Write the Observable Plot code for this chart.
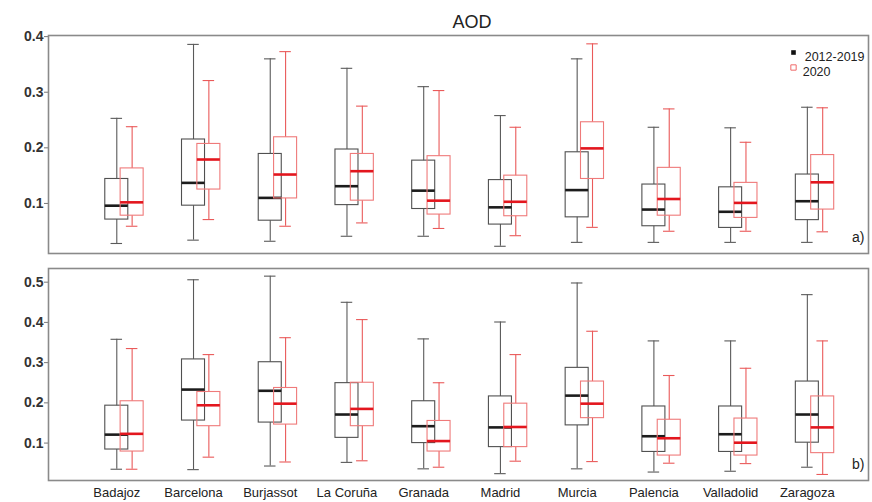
<!DOCTYPE html>
<html><head><meta charset="utf-8">
<script src="https://cdn.jsdelivr.net/npm/d3@7"></script>
<script src="https://cdn.jsdelivr.net/npm/@observablehq/plot@0.6"></script>
<style>
body{margin:0;background:#fff;}
#wrap{position:relative;width:872px;height:502px;font-family:"Liberation Sans",Arial,sans-serif;overflow:hidden;background:#fff;}
#title{position:absolute;top:13px;left:422px;width:100px;text-align:center;font-size:18px;line-height:18px;color:#222;z-index:2;}
#pa{position:absolute;top:16px;left:0;z-index:1;}
#pb{position:absolute;top:260px;left:0;z-index:1;}
</style>
</head><body>
<div id="wrap"><div id="title">AOD</div><div id="pa"></div><div id="pb"></div></div>
<script>
const cities = ["Badajoz","Barcelona","Burjassot","La Coruña","Granada","Madrid","Murcia","Palencia","Valladolid","Zaragoza"];
const periods = ["2012-2019","2020"];

// Panel a)
const aBaseMin = [0.028,0.034,0.032,0.041,0.041,0.023,0.030,0.030,0.030,0.030];
const aBaseQ1  = [0.071,0.096,0.069,0.097,0.090,0.062,0.075,0.059,0.056,0.070];
const aBaseMed = [0.096,0.137,0.110,0.131,0.123,0.093,0.124,0.089,0.085,0.104];
const aBaseQ3  = [0.144,0.215,0.189,0.197,0.177,0.142,0.192,0.134,0.129,0.152];
const aBaseMax = [0.253,0.386,0.360,0.343,0.310,0.258,0.360,0.237,0.236,0.273];
const a20Min = [0.059,0.071,0.059,0.065,0.055,0.042,0.057,0.050,0.050,0.049];
const a20Q1  = [0.078,0.125,0.109,0.105,0.080,0.077,0.144,0.078,0.074,0.089];
const a20Med = [0.102,0.179,0.152,0.158,0.105,0.103,0.199,0.108,0.101,0.138];
const a20Q3  = [0.163,0.207,0.219,0.189,0.185,0.150,0.246,0.164,0.137,0.187];
const a20Max = [0.238,0.321,0.373,0.275,0.303,0.237,0.387,0.270,0.210,0.272];

// Panel b)
const bBaseMin = [0.035,0.034,0.043,0.052,0.036,0.024,0.036,0.028,0.030,0.040];
const bBaseQ1  = [0.084,0.156,0.151,0.113,0.100,0.090,0.144,0.078,0.078,0.101];
const bBaseMed = [0.121,0.233,0.230,0.171,0.142,0.139,0.218,0.117,0.122,0.171];
const bBaseQ3  = [0.193,0.308,0.301,0.249,0.204,0.216,0.287,0.191,0.191,0.253];
const bBaseMax = [0.358,0.506,0.515,0.450,0.359,0.401,0.498,0.354,0.354,0.469];
const b20Min = [0.035,0.065,0.053,0.056,0.040,0.055,0.054,0.050,0.049,0.022];
const b20Q1  = [0.079,0.142,0.146,0.142,0.079,0.090,0.162,0.069,0.069,0.075];
const b20Med = [0.123,0.194,0.198,0.185,0.105,0.140,0.198,0.112,0.101,0.139];
const b20Q3  = [0.204,0.227,0.237,0.250,0.155,0.198,0.253,0.158,0.161,0.216];
const b20Max = [0.335,0.320,0.362,0.407,0.250,0.320,0.378,0.268,0.286,0.354];

const aTicks = [0.1,0.2,0.3,0.4];
const bTicks = [0.1,0.2,0.3,0.4,0.5];

const style = {
  "2012-2019": {off:-0.1, box:"#505050", med:"#1c1c1c", wh:"#5a5a5a"},
  "2020": {off:0.1, box:"#ef7a7a", med:"#e3161e", wh:"#ea5a5a"}
};

function rows(series) {
  const out = [];
  series.forEach(([period, mn, q1, md, q3, mx]) => {
    cities.forEach((c, i) => out.push({city:c, i, period, min:mn[i], q1:q1[i], med:md[i], q3:q3[i], max:mx[i], x: i + style[period].off}));
  });
  return out;
}

const font = '"Liberation Sans", Arial, sans-serif';

function boxMarks(data) {
  const marks = [];
  for (const p of periods) {
    const d = data.filter(r => r.period === p);
    const s = style[p];
    marks.push(
      Plot.ruleX(d, {x:"x", y1:"q3", y2:"max", stroke:s.wh, strokeWidth:1.1}),
      Plot.ruleX(d, {x:"x", y1:"min", y2:"q1", stroke:s.wh, strokeWidth:1.1}),
      Plot.ruleY(d, {y:"max", x1:r=>r.x-0.075, x2:r=>r.x+0.075, stroke:s.wh, strokeWidth:1.1}),
      Plot.ruleY(d, {y:"min", x1:r=>r.x-0.075, x2:r=>r.x+0.075, stroke:s.wh, strokeWidth:1.1}),
      Plot.rect(d, {x1:r=>r.x-0.15, x2:r=>r.x+0.15, y1:"q1", y2:"q3", fill:"none", stroke:s.box, strokeWidth:1.1}),
      Plot.ruleY(d, {y:"med", x1:r=>r.x-0.15, x2:r=>r.x+0.15, stroke:s.med, strokeWidth:2.6})
    );
  }
  return marks;
}

const xDomain = [-0.99, 9.697];

const dataA = rows([
  ["2012-2019", aBaseMin, aBaseQ1, aBaseMed, aBaseQ3, aBaseMax],
  ["2020", a20Min, a20Q1, a20Med, a20Q3, a20Max]
]);
const dataB = rows([
  ["2012-2019", bBaseMin, bBaseQ1, bBaseMed, bBaseQ3, bBaseMax],
  ["2020", b20Min, b20Q1, b20Med, b20Q3, b20Max]
]);

const plotA = Plot.plot({
  width:872, height:244, marginLeft:48, marginRight:4, marginTop:19, marginBottom:7,
  style:{fontFamily:font, background:"transparent"},
  x:{domain:xDomain, axis:null},
  y:{domain:[0.01,0.402], axis:null},
  marks:[
    Plot.axisY(aTicks, {tickFormat:".1f", tickSize:4, tickPadding:1, fontSize:14, fontWeight:"bold", fill:"#333", stroke:"#777", label:null}),
    ...boxMarks(dataA),
    Plot.frame({stroke:"#8a8a8a", strokeWidth:1.6}),
    Plot.dot(["2012-2019"], {frameAnchor:"top-right", dx:-75, dy:17, symbol:"square", r:2.6, fill:"#111", stroke:"none"}),
    Plot.dot(["2020"], {frameAnchor:"top-right", dx:-75, dy:32, symbol:"square", r:3, fill:"none", stroke:"#ef6a6a", strokeWidth:1}),
    Plot.text(["2012-2019"], {frameAnchor:"top-right", dx:-4, dy:17, text:d=>d, textAnchor:"end", fontSize:12.5, fill:"#222"}),
    Plot.text(["2020"], {frameAnchor:"top-right", dx:-38, dy:32, text:d=>d, textAnchor:"end", fontSize:12.5, fill:"#222"}),
    Plot.text(["a)"], {frameAnchor:"bottom-right", dx:-4, dy:-12, text:d=>d, textAnchor:"end", fontSize:14, fill:"#222"})
  ]
});

const plotB = Plot.plot({
  width:872, height:242, marginLeft:48, marginRight:4, marginTop:8, marginBottom:22,
  style:{fontFamily:font, background:"transparent"},
  x:{domain:xDomain, axis:null},
  y:{domain:[0.007,0.534], axis:null},
  marks:[
    Plot.axisY(bTicks, {tickFormat:".1f", tickSize:4, tickPadding:1, fontSize:14, fontWeight:"bold", fill:"#333", stroke:"#777", label:null}),
    Plot.axisX(cities.map((c,i)=>i + style["2012-2019"].off), {tickFormat:(d)=>cities[Math.round(d - style["2012-2019"].off)], tickSize:0, tickPadding:7, fontSize:13, fill:"#222", label:null}),
    ...boxMarks(dataB),
    Plot.frame({stroke:"#8a8a8a", strokeWidth:1.6}),
    Plot.text(["b)"], {frameAnchor:"bottom-right", dx:-4, dy:-12, text:d=>d, textAnchor:"end", fontSize:14, fill:"#222"})
  ]
});

document.getElementById("pa").appendChild(plotA);
document.getElementById("pb").appendChild(plotB);
</script>
</body></html>
